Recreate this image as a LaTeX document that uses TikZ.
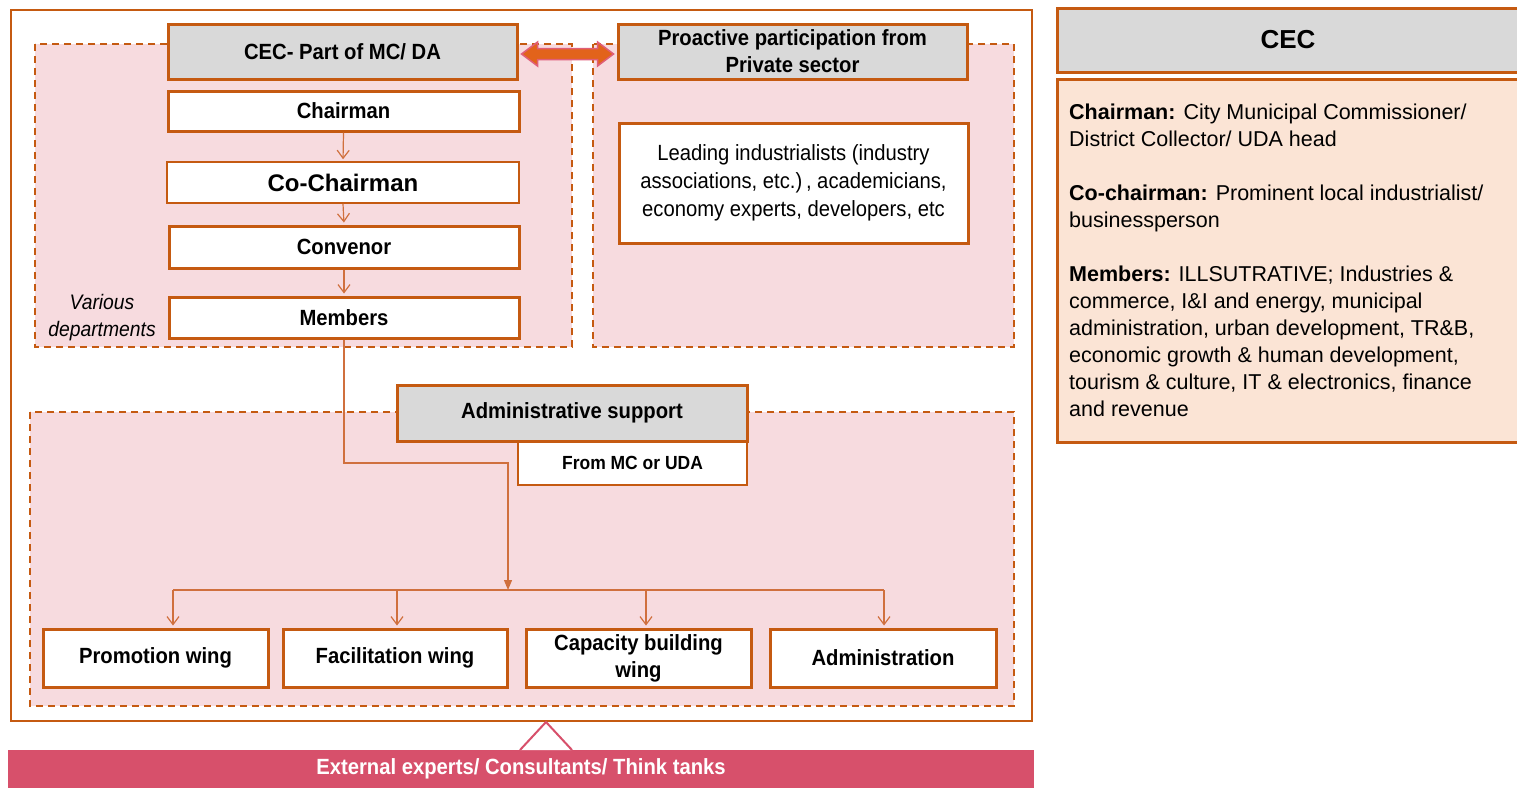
\documentclass[tikz,border=0pt]{standalone}
\usepackage{fontspec}
\setmainfont{Liberation Sans}
\newfontfamily\nf[FakeStretch=0.92]{Liberation Sans}
\usetikzlibrary{arrows.meta,calc}
\definecolor{org}{HTML}{C55A11}
\definecolor{arr}{HTML}{D0703E}
\definecolor{pinkc}{HTML}{F7DBDF}
\definecolor{grayc}{HTML}{D9D9D9}
\definecolor{barc}{HTML}{D7506B}
\definecolor{peach}{HTML}{FBE4D5}
\definecolor{dafill}{HTML}{E2631B}
\definecolor{daline}{HTML}{E05E78}
\tikzset{
  box/.style={draw=org, line width=3pt, fill=white, align=center, inner sep=0pt,
    font=\nf\bfseries\fontsize{22}{27}\selectfont},
  graybox/.style={box, fill=grayc},
  region/.style={draw=org, dash pattern=on 7pt off 5pt, line width=2pt, fill=pinkc},
  thinline/.style={draw=arr, line width=1.2pt},
  varrow/.style={thinline, -{Straight Barb[length=8pt,width=12pt]}, shorten >=2pt},
}
\begin{document}
\begin{tikzpicture}[x=1pt,y=-1pt]
\useasboundingbox (0,0) rectangle (1517,788);
% outer frame
\draw[org, line width=2.5pt, fill=white] (11,10) rectangle (1032,721);
% dashed regions
\draw[region] (35,44) rectangle (572,347);
\draw[region] (593,44) rectangle (1014,347);
\draw[region] (30,412) rectangle (1014,706);

% top boxes
\node[graybox, minimum width=349, minimum height=55] (cec) at (342.5,51.5) {CEC- Part of MC/ DA};
\node[graybox, minimum width=349, minimum height=55] (pro) at (792.5,51.5) {Proactive participation from\\Private sector};

% hierarchy
\node[box, minimum width=351, minimum height=40] (chair) at (343.5,111) {Chairman};
\node[box, line width=1.5pt, minimum width=352, minimum height=41,
  font=\bfseries\fontsize{24}{28}\selectfont] (cochair) at (343,182.5) {Co-Chairman};
\node[box, minimum width=350, minimum height=42] (conv) at (344,247) {Convenor};
\node[box, minimum width=350, minimum height=41] (mem) at (344,317.5) {Members};
\node[align=center, inner sep=0pt, font=\nf\itshape\fontsize{21}{27}\selectfont] (various) at (102,318) {Various\\departments};

\draw[varrow] (chair.south) -- (cochair.north);
\draw[varrow] (cochair.south) -- (conv.north);
\draw[varrow] (conv.south) -- (mem.north);

% private sector
\node[box, minimum width=349, minimum height=120,
  font=\nf\fontsize{22}{28}\selectfont] (lead) at (793.5,183) {Leading industrialists (industry\\associations, etc.)\,, academicians,\\economy experts, developers, etc};

% double arrow
\draw[draw=daline, fill=dafill, line width=1.5pt, line join=miter]
  let \p1=($(cec.east)+(3,2.5)$), \p2=($(pro.west)+(-3,2.5)$) in
  (\x1,\y1) -- (\x1+16pt,\y1+12pt) -- (\x1+16pt,\y1+5.5pt) -- (\x2-16pt,\y2+5.5pt)
  -- (\x2-16pt,\y2+12pt) -- (\x2,\y2) -- (\x2-16pt,\y2-12pt) -- (\x2-16pt,\y2-5.5pt)
  -- (\x1+16pt,\y1-5.5pt) -- (\x1+16pt,\y1-12pt) -- cycle;

% administrative support
\node[box, line width=1.5pt, minimum width=229, minimum height=44,
  font=\nf\bfseries\fontsize{19}{23}\selectfont] (from) at (632.5,463) {From MC or UDA};
\node[graybox, minimum width=350, minimum height=56] (adm) at (572,413) {Administrative support};

% wings
\node[box, minimum width=225, minimum height=58] (promo) at (155.5,658) {Promotion wing};
\node[box, minimum width=224, minimum height=58] (facil) at (395,658) {Facilitation wing};
\node[box, minimum width=225, minimum height=58] (capac) at (638.5,658) {Capacity building\\wing};
\node[box, minimum width=226, minimum height=58] (admin) at (883,658) {Administration};

% connectors to wings
\coordinate (bend) at (508,463);
\coordinate (j) at (508,590);
\coordinate (b1) at (173,590);
\coordinate (b2) at (397,590);
\coordinate (b3) at (646,590);
\coordinate (b4) at (884,590);
\draw[thinline, -{Triangle[length=10pt,width=8pt]}] (mem.south) |- (bend) -- (j);
\draw[thinline] (b1) -- (b4);
\draw[varrow] (b1) -- (b1 |- promo.north);
\draw[varrow] (b2) -- (b2 |- facil.north);
\draw[varrow] (b3) -- (b3 |- capac.north);
\draw[varrow] (b4) -- (b4 |- admin.north);

% bottom bar
\node[fill=barc, minimum width=1026, minimum height=38, inner sep=0pt, text=white,
  font=\nf\bfseries\fontsize{22}{26}\selectfont] (bar) at (521,769) {External experts/ Consultants/ Think tanks};
\draw[barc, line width=2pt, fill=white, line join=miter] (520,750) -- (546,722) -- (572,750);

% right panel
\node[draw=org, line width=3pt, fill=grayc, minimum width=462, minimum height=64, inner sep=0pt,
  font=\bfseries\fontsize{26}{30}\selectfont] (cechead) at (1288,40) {CEC};
\node[draw=org, line width=3pt, fill=peach, minimum width=462, minimum height=363, inner sep=0pt] (cecbody) at (1288,260.5) {};
\node[anchor=north west, align=left, inner sep=0pt, font=\fontsize{21.5}{27}\selectfont] (cectext) at (1069,104)
 {\textbf{Chairman:} City Municipal Commissioner/\\
  District Collector/ UDA head\\[27pt]
  \textbf{Co-chairman:} Prominent local industrialist/\\
  businessperson\\[27pt]
  \textbf{Members:} ILLSUTRATIVE; Industries \&\\
  commerce, I\&I and energy, municipal\\
  administration, urban development, TR\&B,\\
  economic growth \& human development,\\
  tourism \& culture, IT \& electronics, finance\\
  and revenue};
\end{tikzpicture}
\end{document}
